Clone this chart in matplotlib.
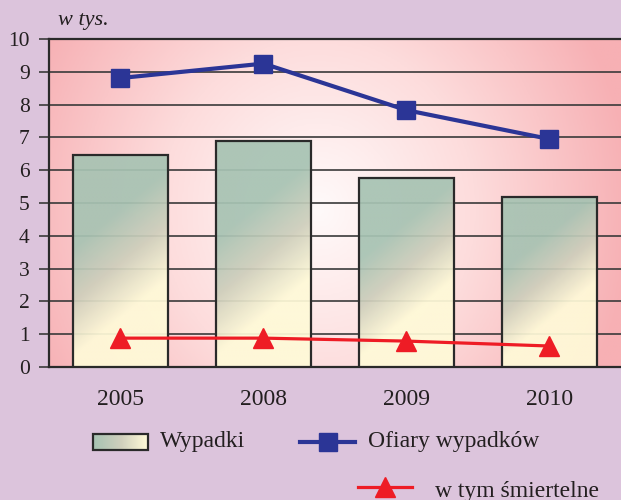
import numpy as np
import matplotlib.pyplot as plt
from matplotlib.patches import Rectangle
from matplotlib.lines import Line2D
from matplotlib.colors import LinearSegmentedColormap

years = ['2005', '2008', '2009', '2010']
wypadki = [6.46, 6.89, 5.76, 5.18]
ofiary = [8.81, 9.25, 7.83, 6.95]
smiertelne = [0.88, 0.88, 0.79, 0.64]

plt.rcParams['font.family'] = ['Liberation Serif', 'DejaVu Serif']

bg = '#dcc4dc'
fig = plt.figure(figsize=(6.21, 5), dpi=100, facecolor=bg)
ax = fig.add_axes([0.0789, 0.266, 0.9211, 0.656])
ax.set_xlim(-0.5, 3.5)
ax.set_ylim(0, 10)

# plot background gradient (pink edges, light centre)
W, H = 400, 200
xx, yy = np.meshgrid(np.linspace(0, 1, W), np.linspace(0, 1, H))
r = np.sqrt(((xx - 0.47) / 0.55) ** 2 + ((yy - 0.48) / 1.05) ** 2)
pink_cmap = LinearSegmentedColormap.from_list('pk', ['#fffafa', '#fddcdc', '#f7b0b4'])
ax.imshow(np.clip(r, 0, 1), cmap=pink_cmap, vmin=0, vmax=1, extent=[-0.5, 3.5, 0, 10],
          aspect='auto', origin='lower', zorder=0)

for v in range(1, 11):
    ax.axhline(v, color='#3a3a3a', lw=1.2, zorder=1)

# bars with diagonal gradient
bar_cmap = LinearSegmentedColormap.from_list('bar', ['#a7c3b3', '#cfcfbc', '#fffad8'])
pos = ax.get_position()
px_x = pos.width * 621 / 4.0
px_y = pos.height * 500 / 10.0
bw = 0.665
for i, v in enumerate(wypadki):
    left = i - bw / 2
    nx, ny = 120, 240
    gx, gy = np.meshgrid(np.linspace(0, bw, nx), np.linspace(v, 0, ny))
    d = (v - gy) * px_y
    s = d + 0.82 * gx * px_x
    h = v * px_y
    t = np.clip((s / h - 0.43) / (0.95 - 0.43), 0, 1)
    rect = Rectangle((left, 0), bw, v, facecolor='none', edgecolor='#2a2a2a', lw=1.6, zorder=4)
    ax.add_patch(rect)
    im = ax.imshow(t, cmap=bar_cmap, vmin=0, vmax=1, extent=[left, left + bw, 0, v],
                   aspect='auto', origin='upper', zorder=3, alpha=0.93)
    im.set_clip_path(rect)

x = np.arange(len(years))
ax.plot(x, ofiary, color='#2b3596', lw=3, marker='s', markersize=13, zorder=6)
ax.plot(x, smiertelne, color='#ee1c25', lw=2.3, marker='^', markersize=14, zorder=6)

ax.set_xlim(-0.5, 3.5)
ax.set_ylim(0, 10)
ax.set_yticks(range(0, 11))
ax.set_xticks(x)
ax.set_xticklabels(years)
ax.tick_params(axis='y', length=7, width=1.2, color='#3a3a3a', pad=7, labelsize=15.5, labelcolor='#231f20')
ax.tick_params(axis='x', length=0, pad=16, labelsize=17, labelcolor='#231f20')
for side in ['top', 'left', 'bottom']:
    ax.spines[side].set_color('#2a2a2a')
    ax.spines[side].set_linewidth(1.6)
ax.spines['right'].set_visible(False)

fig.text(58 / 621, 1 - 20 / 500, 'w tys.', style='italic', fontsize=16, va='center', color='#231f20')

# legend drawn by hand
lx = fig.add_axes([0, 0, 1, 1], facecolor='none')
lx.set_xlim(0, 621)
lx.set_ylim(500, 0)
lx.axis('off')
g = np.linspace(0, 1, 50).reshape(1, -1)
lx.imshow(g, cmap=bar_cmap, extent=[93, 148, 450, 434], aspect='auto', zorder=2)
lx.add_patch(Rectangle((93, 434), 55, 16, facecolor='none', edgecolor='#2a2a2a', lw=1.6, zorder=3))
lx.text(160, 442, 'Wypadki', fontsize=17, va='center', color='#231f20')
lx.add_line(Line2D([300, 355], [442, 442], color='#2b3596', lw=3))
lx.plot([327.5], [442], marker='s', color='#2b3596', markersize=13)
lx.text(368, 442, 'Ofiary wypadków', fontsize=17, va='center', color='#231f20')
lx.add_line(Line2D([358, 412], [487, 487], color='#ee1c25', lw=2.3))
lx.plot([385], [487], marker='^', color='#ee1c25', markersize=14)
lx.text(435, 491, 'w tym śmiertelne', fontsize=17, va='center', color='#231f20')
lx.set_xlim(0, 621)
lx.set_ylim(500, 0)

fig.savefig('out.png', dpi=100, facecolor=bg)
